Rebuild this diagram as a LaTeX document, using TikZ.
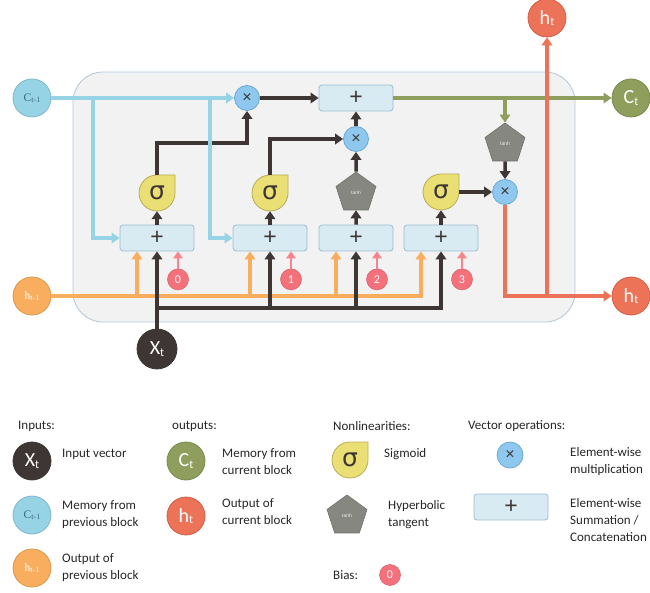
\documentclass[tikz,border=0pt]{standalone}
\usepackage{fontspec}
\setmainfont{Carlito}
\newfontfamily\lbs{Liberation Sans}
\newfontfamily\lsr{Liberation Serif}
\newfontfamily\dvs{DejaVu Sans}
\usetikzlibrary{arrows.meta,shapes.geometric,calc}
\definecolor{cellfill}{HTML}{F2F2F2}
\definecolor{celldraw}{HTML}{B3C6D9}
\definecolor{cbl}{HTML}{96D3E4}
\definecolor{cbld}{HTML}{7DB8CB}
\definecolor{cor}{HTML}{F8AE5E}
\definecolor{cord}{HTML}{E0974A}
\definecolor{cdk}{HTML}{3D3635}
\definecolor{cgr}{HTML}{8F9E5C}
\definecolor{cgrd}{HTML}{788A4C}
\definecolor{crd}{HTML}{EC7358}
\definecolor{crdd}{HTML}{D35E45}
\definecolor{cmul}{HTML}{8EC8EE}
\definecolor{cmuld}{HTML}{6AA9D6}
\definecolor{csum}{HTML}{D8EBF2}
\definecolor{csumd}{HTML}{9DBDD2}
\definecolor{csig}{HTML}{E9DF75}
\definecolor{csigd}{HTML}{B8AC55}
\definecolor{ctan}{HTML}{878781}
\definecolor{ctand}{HTML}{6F6F6A}
\definecolor{cpk}{HTML}{F4717C}
\definecolor{cpkl}{HTML}{F7838D}
\definecolor{ctxt}{HTML}{262626}
\definecolor{cctl}{HTML}{3F6978}
\newcommand\lblsmall[2]{{\lsr\fontsize{11.5}{11.5}\selectfont #1\fontsize{8}{8}\selectfont\raisebox{-1.2pt}{#2}}}
\newcommand\lblbig[2]{{\fontsize{20}{20}\selectfont #1\fontsize{12}{12}\selectfont\raisebox{-1.5pt}{#2}}}
\newcommand\sigshape[2]{\filldraw[sigst] (#1+18,#2-18) -- (#1+18,#2) arc[start angle=0,end angle=180,radius=18] arc[start angle=180,end angle=270,radius=18] -- cycle;}
\begin{document}
\begin{tikzpicture}[x=1pt,y=-1pt,
  io/.style={circle,minimum size=38pt,inner sep=0pt,line width=0.8pt},
  sumbox/.style={draw=csumd,fill=csum,rounded corners=3pt,minimum width=74pt,minimum height=26pt,inner sep=0pt,line width=0.8pt,font=\lbs\fontsize{23}{23}\selectfont,text=cdk},
  mul/.style={circle,draw=cmuld,fill=cmul,minimum size=25pt,inner sep=0pt,line width=0.8pt,font=\lbs\fontsize{16}{16}\selectfont,text=cdk},
  tanhst/.style={regular polygon,regular polygon sides=5,minimum size=42pt,inner sep=0pt,fill=ctan,draw=ctand,line width=0.6pt,font=\lbs\fontsize{5}{5}\selectfont,text=white!85!ctan},
  sigst/.style={fill=csig,draw=csigd,line width=0.8pt},
  signode/.style={circle,minimum size=36pt,inner sep=0pt,font=\dvs\fontsize{25}{25}\selectfont,text=cdk},
  bias/.style={circle,fill=cpk,draw=cpk!85!black,line width=0.5pt,minimum size=21pt,inner sep=0pt,font=\fontsize{12}{12}\selectfont,text=white},
  wire/.style={line width=3.5pt,-{Triangle[length=8pt,width=10.5pt]}},
  lab/.style={anchor=west,align=left,font=\fontsize{13}{17}\selectfont,text=ctxt,inner sep=0pt},
  head/.style={anchor=west,font=\fontsize{13}{15}\selectfont,text=ctxt,inner sep=0pt}]
\useasboundingbox (0,0) rectangle (650,593);
% cell
\node[draw=celldraw,fill=cellfill,rounded corners=30pt,minimum width=502pt,minimum height=250pt,line width=0.8pt] (cell) at (324,197) {};
% io circles
\node[io,fill=cbl,draw=cbld,text=cctl] (cp) at (32,98) {\lblsmall{C}{t-1}};
\node[io,fill=cor,draw=cord,text=white] (hp) at (32,296) {\lblsmall{h}{t-1}};
\node[io,fill=cdk,draw=cdk,text=white,minimum size=40pt] (X) at (157,349) {\lblbig{X}{t}};
\node[io,fill=cgr,draw=cgrd,text=white] (Ct) at (631,98) {\lblbig{C}{t}};
\node[io,fill=crd,draw=crdd,text=white] (hr) at (631,296) {\lblbig{h}{t}};
\node[io,fill=crd,draw=crdd,text=white] (ht) at (547,18) {\lblbig{h}{t}};
% sum boxes
\node[sumbox] (b1) at (157,238) {+};
\node[sumbox] (b2) at (270,238) {+};
\node[sumbox] (b3) at (356,238) {+};
\node[sumbox] (b4) at (441,238) {+};
\node[sumbox] (cs) at (356,98) {+};
% multiplications
\node[mul] (m1) at (247,98) {×};
\node[mul] (m2) at (356,139) {×};
\node[mul] (mo) at (505,192) {×};
% tanh
\node[tanhst] (t3) at (356,193) {tanh};
\node[tanhst] (to) at (505,144) {tanh};
% sigmoids
\sigshape{157}{193}
\node[signode] (s1) at (157,193) {σ};
\sigshape{270}{193}
\node[signode] (s2) at (270,193) {σ};
\sigshape{441}{192}
\node[signode] (s4) at (441,192) {σ};
% biases
\node[bias] (p0) at ($(b1.south)+(21,28)$) {0};
\node[bias] (p1) at ($(b2.south)+(21,28)$) {1};
\node[bias] (p2) at ($(b3.south)+(21,28)$) {2};
\node[bias] (p3) at ($(b4.south)+(21,28)$) {3};
% helper coordinates
\foreach \b in {b1,b2,b3,b4}{\coordinate (\b o) at ($(\b.south)+(-20,0)$);}
\coordinate (xrow) at (0,308);
\coordinate (br1) at (93,98);
\coordinate (br2) at (210,98);
% orange wires
\draw[wire,cor] (hp.east) -| (b4o);
\foreach \b in {b1,b2,b3}{\draw[wire,cor] (\b o |- hp) -- (\b o);}
% black wires
\draw[wire,cdk] (X.north) -- (b1.south);
\draw[wire,cdk] (X.north |- xrow) -| (b4.south);
\draw[wire,cdk] (b2.south |- xrow) -- (b2.south);
\draw[wire,cdk] (b3.south |- xrow) -- (b3.south);
\draw[wire,cdk] (b1.north) -- (s1.south);
\draw[wire,cdk] (b2.north) -- (s2.south);
\draw[wire,cdk] (b3.north) -- (t3.south);
\draw[wire,cdk] (b4.north) -- (s4.south);
\draw[wire,cdk] (s1.north) -- ++(0,-32) -| (m1.south);
\draw[wire,cdk] (s2.north) |- (m2.west);
\draw[wire,cdk] (t3.north) -- (m2.south);
\draw[wire,cdk] (m2.north) -- (cs.south);
\draw[wire,cdk] (m1.east) -- (cs.west);
\draw[wire,cdk] (s4.east) -- (mo.west);
\draw[wire,cdk] (to.south) -- (mo.north);
% blue wires
\draw[wire,cbl] (cp.east) -- (m1.west);
\draw[wire,cbl] (br1) |- (b1.west);
\draw[wire,cbl] (br2) |- (b2.west);
% pink bias wires
\foreach \p/\b in {p0/b1,p1/b2,p2/b3,p3/b4}{\draw[line width=2.7pt,cpkl,-{Triangle[length=7pt,width=9.5pt]}] (\p.north) -- (\p.north |- \b.south);}
% green wires
\draw[wire,cgr] (cs.east) -- (Ct.west);
\draw[wire,cgr] (to.north |- cs.east) -- (to.north);
% red wires
\draw[wire,crd] (mo.south) |- (hr.west);
\draw[wire,crd] (ht.south |- hr.west) -- (ht.south);
% legend
\node[head] (hin) at (18,426) {Inputs:};
\node[head] (hout) at (172,426) {outputs:};
\node[head] (hnl) at (333,426) {Nonlinearities:};
\node[head] (hvo) at (468,426) {Vector operations:};
\node[io,fill=cdk,draw=cdk,text=white] (lX) at (32,461) {\lblbig{X}{t}};
\node[lab] (tX) at (62,454) {Input vector};
\node[io,fill=cbl,draw=cbld,text=cctl] (lcp) at (32,515) {\lblsmall{C}{t-1}};
\node[lab] (tcp) at (62,515) {Memory from\\previous block};
\node[io,fill=cor,draw=cord,text=white] (lhp) at (32,568) {\lblsmall{h}{t-1}};
\node[lab] (thp) at (62,568) {Output of\\previous block};
\node[io,fill=cgr,draw=cgrd,text=white] (lCt) at (186,461) {\lblbig{C}{t}};
\node[lab] (tCt) at (222,462) {Memory from\\current block};
\node[io,fill=crd,draw=crdd,text=white] (lht) at (186,516) {\lblbig{h}{t}};
\node[lab] (tht) at (222,512) {Output of\\current block};
\sigshape{350}{460}
\node[signode] (ls) at (350,460) {σ};
\node[lab] (tls) at (384,454) {Sigmoid};
\node[tanhst] (lt) at (347,516) {tanh};
\node[lab] (tlt) at (388,515) {Hyperbolic\\tangent};
\node[head] (hb) at (333,575) {Bias:};
\node[bias] (lb) at (390,575) {0};
\node[mul,minimum size=26pt] (lm) at (510,455) {×};
\node[lab] (tlm) at (570,462) {Element-wise\\multiplication};
\node[sumbox] (lsum) at (511,507) {+};
\node[lab] (tlsum) at (570,520) {Element-wise\\Summation /\\Concatenation};
\end{tikzpicture}
\end{document}
